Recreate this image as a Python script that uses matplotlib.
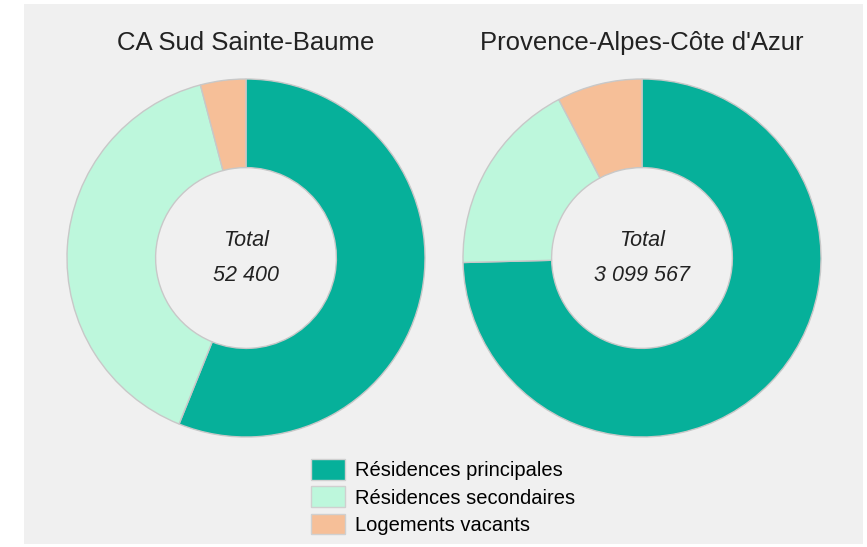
import numpy as np
import matplotlib
matplotlib.use("Agg")
import matplotlib.pyplot as plt
from matplotlib.patches import Rectangle

plt.rcParams['font.family'] = ['Liberation Sans', 'DejaVu Sans']

categories = ["Résidences principales", "Résidences secondaires", "Logements vacants"]
colors = ["#06b09a", "#bdf7dc", "#f6bf98"]

territories = ["CA Sud Sainte-Baume", "Provence-Alpes-Côte d'Azur"]
totals = ["52 400", "3 099 567"]
sud_sainte_baume = [56.1, 39.8, 4.1]
paca = [74.6, 17.7, 7.7]

fig = plt.figure(figsize=(8.67, 5.47), dpi=100)
fig.patch.set_facecolor("white")
fig.add_artist(Rectangle((24 / 867, 3 / 547), 839 / 867, 540 / 547,
                         transform=fig.transFigure, facecolor="#f0f0f0",
                         edgecolor="none", zorder=-10))

W, H = 867, 547
r = 179
centers = [(246, 258), (642, 258)]

for (cx, cy), name, total, values in zip(centers, territories, totals,
                                           [sud_sainte_baume, paca]):
    ax = fig.add_axes([(cx - r) / W, (H - cy - r) / H, 2 * r / W, 2 * r / H])
    ax.pie(values, colors=colors, startangle=90, counterclock=False,
           radius=1, wedgeprops=dict(width=0.495, edgecolor="#c8c8c8", linewidth=1))
    ax.set_xlim(-1, 1)
    ax.set_ylim(-1, 1)
    ax.set_aspect("equal")
    ax.axis("off")
    ax.text(0, 0.095, "Total", ha="center", va="center", style="italic",
            fontsize=15.5, color="#222222")
    ax.text(0, -0.095, total, ha="center", va="center", style="italic",
            fontsize=15.5, color="#222222")
    fig.text(cx / W, 1 - 43 / H, name, ha="center", va="center",
             fontsize=18.5, color="#222222")

handles = [Rectangle((0, 0), 1, 1, facecolor=c, edgecolor="#d0d0d0") for c in colors]
leg = fig.legend(handles, categories, loc="center", bbox_to_anchor=(443 / W, 1 - 497 / H),
                 frameon=False, fontsize=14.5, handlelength=1.65, handleheight=1.2,
                 labelspacing=0.3, handletextpad=0.5, borderpad=0)

fig.savefig("out.png", dpi=100, facecolor=fig.get_facecolor())
